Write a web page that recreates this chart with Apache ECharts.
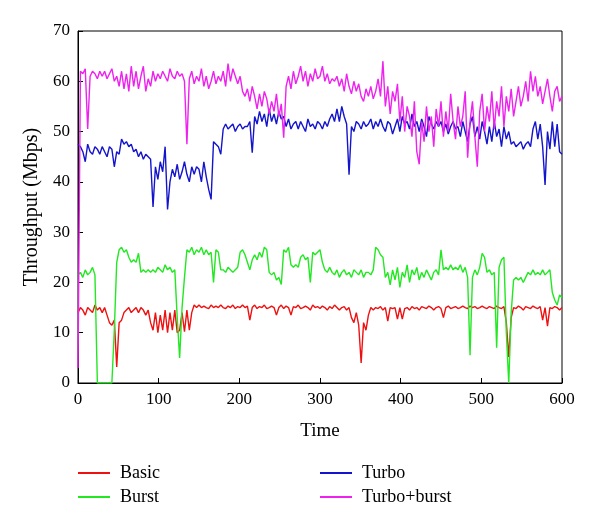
<!DOCTYPE html>
<html>
<head>
<meta charset="utf-8">
<script src="https://cdn.jsdelivr.net/npm/echarts@6/dist/echarts.min.js"></script>
<style>html,body{margin:0;padding:0;background:#fff}#c{width:600px;height:524px}</style>
</head>
<body>
<div id="c"></div>
<script>
const step = 3;
const seriesNames = ['Basic', 'Burst', 'Turbo', 'Turbo+burst'];
const xTicks = [0, 100, 200, 300, 400, 500, 600];
const yTicks = [0, 10, 20, 30, 40, 50, 60, 70];

const basic = [
14,15,14.5,13.5,15,14.5,14,15.5,14.5,15,
14,15,13.5,12,11.5,12.5,3.2,12,12.5,14,
14.5,15,14,14.5,15,14,15,14.5,13.5,14.5,
12,10.5,14,10,13.5,10.5,14.5,10,14,10.5,
14.5,10,10.5,14,10.2,14.5,10.5,14,15.5,15,
15.5,15,15.3,15,14.8,15.5,15,15.3,15,15.5,
15,14.8,15.3,15,15.5,14.8,15.2,15,15.5,15,
15.3,12.5,15,15.5,14.8,15.2,15,15.5,14.8,15,
15.3,15,13.5,15,15.5,14.8,15.3,15,13.5,15.2,
15,15.5,14.8,15,15.3,15,14.5,15.5,15,15.2,
14.8,15.3,15,14.5,15.2,14.8,15.5,15,14.5,15,
15.2,14.5,15,13,12,14,11.5,4,12,10.5,
13.5,15,14.5,15,14.8,15.2,14.5,15,12.3,15,
14.8,15,12.7,15,12.7,14.8,15,14.5,15.2,14.8,
15,14.5,15.2,15,14.8,15.3,15,14.5,15,15.2,
14.8,13,15,15.3,14.8,15,15.2,14.8,15,15.3,
15,14.8,15.3,15,15.2,14.8,15,15.3,15,14.8,
15.2,15,14.8,15.3,15,14.8,15.2,12,5.2,13,
15,14.8,15.3,15,14.5,15.2,15,14.8,15.3,15,
14.8,15.2,12.5,15,11.3,15,14.8,15.2,15,14.5,
15];

const burst = [
21.5,22,21,22.5,21.5,22,23,21.5,0,0,
0,0,0,0,0,10.5,24,26.5,27,26,
26.5,25,24,24.5,24,25.8,22,22.5,22,22.5,
22,22.5,22,23,22.5,22,23.5,22.5,23,22,
22.5,13,5,15,21,26.5,26,27,25.5,26.5,
26,27,25.5,26.5,25.5,26,20,26.5,26,22.5,
22.5,22,23,22.5,22,22.5,23,26,26.5,25.5,
24,22.5,24.5,25.5,24.5,26,25,27,26.5,22,
21.5,22,20.5,21,19.6,26.5,26,27,23.5,23,
23.5,23,25,25.5,24.5,25,20,26,25.5,26,
26.5,24,22.5,22,23,22,21.5,22.5,21,22,
22.5,21.5,22,21,22.5,22,21.5,22.5,21,22,
22,21.5,22.5,27,26.5,25.5,25,21,22,19.5,
22.5,20.5,23,19,22,21,23.5,20,22.5,21.5,
23,20.5,22,21,22.5,21.5,20.5,22,22.5,21.5,
26.5,22.5,23,22.5,23.5,22.5,23,22.5,23.5,22,
23,21,5.5,21,22.5,21.5,23,25.8,25,22,
22.5,21.5,22,7,23,24.5,25,10,0,14,
20.5,21,20.5,21,20,21,22,21.5,22.5,21.5,
22,21.5,22.5,21.5,22,22.5,18,16.5,15.5,17.5,
17];

const turbo = [
47.5,47,46,44,47.5,46,45.5,47,46.5,45.5,
47,46,45,47,46.5,43,46,45.5,48.5,47.5,
48,47,47.5,46,46.5,45,46,44.5,45.5,45,
44.5,35,43,40.5,44,42,47,34.5,40,42.5,
41,43.5,40.5,42,44,41.5,40,43,41.5,43,
42.5,40,44,41,38.5,36.5,48,47.5,47,45.5,
50.5,51.5,50.5,51,51.5,50,51,51.5,50.5,51,
51,52,45.8,53,51.5,54,52,53.5,51,54.5,
52,53.5,51.5,54,52.5,53,51,52.5,50.5,51.5,
52,50.5,52,51,50,52.5,51,51.5,50.5,52,
51.5,50.5,52,51,52.5,53.5,52,54.5,52,55,
53,51.5,41.4,51,50,52,51.5,50.5,52,51,
51.5,52.5,50.5,52,51,52.5,51,50,52,51.5,
49.5,51,52.5,50,53,51.5,52,50.5,53.5,51,
52,50,52.5,51,49,53,51.5,50.5,52,51,
52,50,51.5,49.5,51,52,50.5,51,49,52,
50,48,51.5,53,49,51,48.5,52,50,47.5,
51,48,52,49,50.5,47,51,48.5,50,47.5,
48,47,47.5,48,46.5,47.5,48,47,50.5,52,
48.5,51.5,47,39.4,50,46.5,52,47,51.5,46,
45.5];

const turboBurst = [
3,62,61.5,62.5,50.5,61,62,61.5,60.5,62,
61,62,60.5,61.5,62.5,60,61,59,62,58.5,
61.5,58,63,59,62,58.5,61,63,58,60.5,
59,62,60,61.5,60.5,62,61,60,62.5,61,
60.5,62,61,61.5,60,47.5,60.5,62,59.5,61,
60,62.5,59,61,58.5,60,62,59.5,61,60,
62,59,63.5,60,62.5,61,59.5,61,58,57,
58.5,56,59,57,54.5,57.5,55,58,56.5,53.5,
56,54,57.5,53,55.5,48.8,59,61,58.5,62,
59.5,61,63,60,62,59,61.5,60,62.5,60.5,
61,63,60,61.5,59.5,60.5,60,61,59,60.5,
58,61.5,59,57.5,60,58,59.5,57,56,58.5,
57,59,56.5,58,60.5,57,64,55,59,53.5,
58,56,59.5,52,57,50,55,53,49,56,
46,43.5,52,48,55,50,53,47,54.5,51,
56,49,54,50,57.5,52,48.5,55,51,53,
58,44.8,52,56,49,43,54,57.5,50,55,
52,58,50.5,56,53,59,51,57,54,58.5,
53,56,59,55,57,60,56,62,58,61,
57,59,55.5,58,60.5,57,54,58,59,56,
57];

const colors = ['#ee1111', '#22e822', '#1414cc', '#ee22ee'];
const values = [basic, burst, turbo, turboBurst];

function pairs(arr) {
  return arr.map((v, i) => [i * step, v]);
}

const font = 'Liberation Serif';
const legendCommon = {
  orient: 'vertical', top: 464, padding: 0, icon: 'rect', itemWidth: 32, itemHeight: 2, itemGap: 6,
  textStyle: { fontFamily: font, fontSize: 18, color: '#000', padding: [0, 0, 0, 5] }
};
const chart = echarts.init(document.getElementById('c'));
chart.setOption({
  backgroundColor: '#fff',
  animation: false,
  textStyle: { fontFamily: font, color: '#000' },
  grid: { left: 78, right: 38, top: 31, bottom: 141, show: true, borderColor: '#000', borderWidth: 1, backgroundColor: 'transparent' },
  xAxis: {
    type: 'value', min: xTicks[0], max: xTicks[xTicks.length - 1], interval: 100,
    name: 'Time', nameLocation: 'middle', nameGap: 39,
    nameTextStyle: { fontFamily: font, fontSize: 19, color: '#000' },
    axisLine: { lineStyle: { color: '#000', width: 1 } },
    axisTick: { inside: true, length: 5, lineStyle: { color: '#000' } },
    axisLabel: { fontFamily: font, fontSize: 17, color: '#000', margin: 8 },
    splitLine: { show: false }
  },
  yAxis: {
    type: 'value', min: yTicks[0], max: yTicks[yTicks.length - 1], interval: 10,
    name: 'Throughput (Mbps)', nameLocation: 'middle', nameGap: 35,
    nameTextStyle: { fontFamily: font, fontSize: 20, color: '#000' },
    axisLine: { show: true, lineStyle: { color: '#000', width: 1 } },
    axisTick: { show: true, inside: true, length: 5, lineStyle: { color: '#000' } },
    axisLabel: { fontFamily: font, fontSize: 17, color: '#000', margin: 8 },
    splitLine: { show: false }
  },
  legend: [
    Object.assign({ data: [seriesNames[0], seriesNames[1]], left: 78 }, legendCommon),
    Object.assign({ data: [seriesNames[2], seriesNames[3]], left: 320 }, legendCommon)
  ],
  series: seriesNames.map((n, k) => ({
    name: n, type: 'line', data: pairs(values[k]), symbol: 'none', showSymbol: false,
    color: colors[k], lineStyle: { color: colors[k], width: 1.4 }, z: 2 + k
  }))
});
</script>
</body>
</html>
